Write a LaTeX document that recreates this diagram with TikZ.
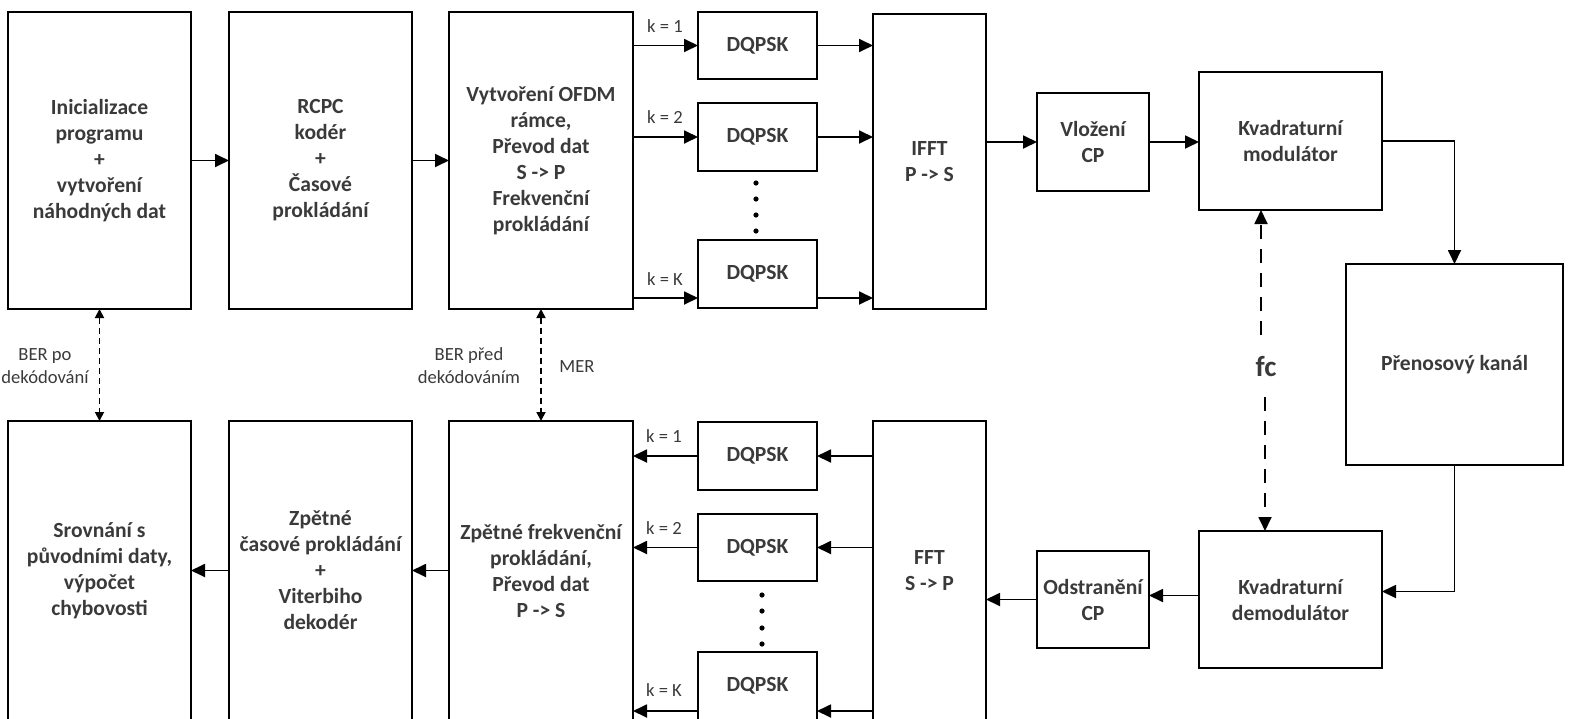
\documentclass[tikz,border=0pt]{standalone}
\usepackage{fontspec}
\setmainfont{Carlito}
\usetikzlibrary{arrows.meta,calc}
\definecolor{txt}{HTML}{3A3A3A}

% \blockat{name}{x1}{y1}{x2}{y2}{text}: rectangle given by its corners (px)
\newcommand\blockat[6]{%
  \pgfmathsetmacro\bw{(#4-#2)*0.5}%
  \pgfmathsetmacro\bh{(#5-#3)*0.5}%
  \node[blk, minimum width=\bw pt, minimum height=\bh pt] (#1) at ({(#2+#4)/2},{(#3+#5)/2}) {#6};}

\begin{document}
\begin{tikzpicture}[x=0.5pt,y=-0.5pt,
  blk/.style={draw, line width=0.9pt, inner sep=0pt, outer sep=0pt, align=center,
    text=txt, font=\fontsize{10.8}{13}\selectfont\bfseries},
  lbl/.style={text=txt, align=center, inner sep=0pt, font=\fontsize{9.3}{11.5}\selectfont},
  arr/.style={line width=0.9pt, -{Triangle[length=7pt,width=6.5pt]}},
  darr/.style={line width=0.9pt, dash pattern=on 3pt off 2pt,
    {Triangle[length=4.5pt,width=4.5pt]}-{Triangle[length=4.5pt,width=4.5pt]}},
  farr/.style={line width=0.9pt, dash pattern=on 7pt off 5pt, -{Triangle[length=7pt,width=6.5pt]}},
]
\useasboundingbox (0,0) rectangle (1575,718);
\clip (0,0) rectangle (1575,718);

% transmitter chain
\blockat{t1}{8}{12}{191}{309}{Inicializace\\programu\\+\\vytvoření\\náhodných dat}
\blockat{t2}{229}{12}{412}{309}{RCPC\\kodér\\+\\Časové\\prokládání}
\blockat{t3}{449}{12}{633}{309}{Vytvoření OFDM\\rámce,\\Převod dat\\S -> P\\Frekvenční\\prokládání}
\blockat{d1}{698}{12}{817}{79}{DQPSK}
\blockat{d2}{698}{103}{817}{171}{DQPSK}
\blockat{d3}{698}{240}{817}{308}{DQPSK}
\blockat{ifft}{873}{14}{986}{309}{IFFT\\P -> S}
\blockat{vcp}{1037}{93}{1149}{191}{Vložení\\CP}
\blockat{mod}{1199}{72}{1382}{210}{Kvadraturní\\modulátor}
\blockat{chan}{1346}{264}{1563}{465}{Přenosový kanál}

% receiver chain
\blockat{dem}{1199}{531}{1382}{668}{Kvadraturní\\demodulátor}
\blockat{ocp}{1037}{551}{1149}{648}{Odstranění\\CP}
\blockat{fft}{873}{421}{986}{720}{FFT\\S -> P}
\blockat{e1}{698}{422}{817}{490}{DQPSK}
\blockat{e2}{698}{514}{817}{581}{DQPSK}
\blockat{e3}{698}{652}{817}{720}{DQPSK}
\blockat{r3}{449}{421}{633}{720}{Zpětné frekvenční\\prokládání,\\Převod dat\\P -> S}
\blockat{r2}{229}{421}{412}{720}{Zpětné\\časové prokládání\\+\\Viterbiho\\dekodér}
\blockat{r1}{8}{421}{191}{720}{Srovnání s\\původními daty,\\výpočet\\chybovosti}

% transmitter connectors
\draw[arr] (t1.east) -- (t2.west);
\draw[arr] (t2.east) -- (t3.west);
\draw[arr] (t3.east |- d1.west) -- (d1.west);
\draw[arr] (t3.east |- d2.west) -- (d2.west);
\coordinate (dKin) at ([yshift=-12pt]d3.west);
\coordinate (dKout) at ([yshift=-12pt]d3.east);
\draw[arr] (t3.east |- dKin) -- (dKin);
\draw[arr] (d1.east) -- (ifft.west |- d1.east);
\draw[arr] (d2.east) -- (ifft.west |- d2.east);
\draw[arr] (dKout) -- (ifft.west |- dKout);
\draw[arr] (ifft.east |- vcp.west) -- (vcp.west);
\draw[arr] (vcp.east) -- (mod.west |- vcp.east);
\draw[arr] (mod.east) -| (chan.north);

% receiver connectors
\coordinate (demin) at ([yshift=4pt]dem.east);
\draw[arr] (chan.south) |- (demin);
\coordinate (demout) at ([yshift=2pt]dem.west);
\draw[arr] (demout) -- (ocp.east |- demout);
\draw[arr] (ocp.west) -- (fft.east |- ocp.west);
\draw[arr] (fft.west |- e1.east) -- (e1.east);
\draw[arr] (fft.west |- e2.east) -- (e2.east);
\coordinate (eKin) at ([yshift=-12.5pt]e3.east);
\coordinate (eKout) at ([yshift=-12.5pt]e3.west);
\draw[arr] (fft.west |- eKin) -- (eKin);
\draw[arr] (e1.west) -- (r3.east |- e1.west);
\draw[arr] (e2.west) -- (r3.east |- e2.west);
\draw[arr] (eKout) -- (r3.east |- eKout);
\draw[arr] (r3.west) -- (r2.east);
\draw[arr] (r2.west) -- (r1.east);

% channel index labels
\node[lbl] (k1t) at (665,26) {k = 1};
\node[lbl] (k2t) at (665,117) {k = 2};
\node[lbl] (kKt) at (665,279) {k = K};
\node[lbl] (k1r) at (664,436) {k = 1};
\node[lbl] (k2r) at (664,528) {k = 2};
\node[lbl] (kKr) at (664,690) {k = K};

% ellipsis between the subcarrier mappers
\foreach \yy in {183,199,215,231} \fill (756,\yy) circle (1.3pt);
\foreach \yy in {595,611,628,644} \fill (762,\yy) circle (1.3pt);

% measurement links
\draw[darr] (t1.south) -- (r1.north);
\draw[darr] (t3.south) -- (r3.north);
\node[lbl] (berpo) at (45,366) {BER po\\dekódování};
\node[lbl] (berpred) at (469,366) {BER před\\dekódováním};
\node[lbl] (mer) at (577,367) {MER};

% carrier frequency
\node[text=txt, inner sep=0pt, font=\fontsize{14.5}{16}\selectfont\bfseries] (fc) at (1266,367) {fc};
\coordinate (fcA) at (1261,335);
\coordinate (fcB) at (1265,397);
\draw[farr] (fcA) -- (fcA |- mod.south);
\draw[farr] (fcB) -- (fcB |- dem.north);
\end{tikzpicture}
\end{document}
